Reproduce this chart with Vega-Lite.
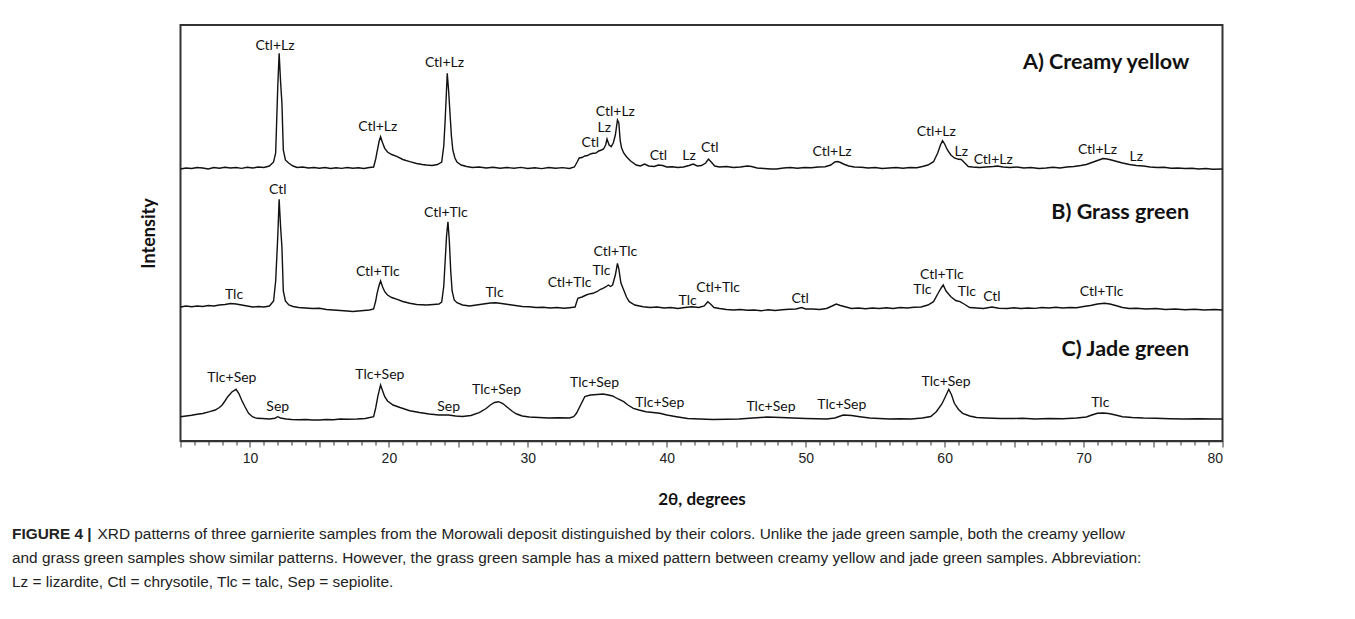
{
  "$schema": "https://vega.github.io/schema/vega-lite/v6.json",
  "width": 1042,
  "height": 416,
  "autosize": {"type": "none"},
  "padding": {"left": 180.5, "top": 25, "right": 132.5, "bottom": 178},
  "background": "white",
  "config": {"view": {"stroke": "#333", "strokeWidth": 2}},
  "title": {
    "text": "FIGURE 4 |",
    "subtitle": [
      "\u200b\u00a0\u00a0\u00a0\u00a0\u00a0\u00a0\u00a0\u00a0\u00a0\u00a0\u00a0\u00a0\u00a0\u00a0\u00a0\u00a0\u00a0\u00a0\u00a0\u00a0XRD patterns of three garnierite samples from the Morowali deposit distinguished by their colors. Unlike the jade green sample, both the creamy yellow",
      "and grass green samples show similar patterns. However, the grass green sample has a mixed pattern between creamy yellow and jade green samples. Abbreviation:",
      "Lz = lizardite, Ctl = chrysotile, Tlc = talc, Sep = sepiolite."
    ],
    "orient": "bottom",
    "anchor": "start",
    "frame": "group",
    "dx": -168.5,
    "offset": 20,
    "font": "Liberation Sans",
    "fontSize": 15.4,
    "fontWeight": "bold",
    "color": "#222",
    "subtitleFont": "Liberation Sans",
    "subtitleFontSize": 15.4,
    "subtitleColor": "#222",
    "subtitleLineHeight": 24,
    "subtitlePadding": -15.4
  },
  "datasets": {
    "trace": [
      {"s":"A","x":5.0,"y":272},{"s":"A","x":5.4,"y":273},{"s":"A","x":5.8,"y":272.5},{"s":"A","x":6.2,"y":273.5},{"s":"A","x":6.6,"y":273},{"s":"A","x":7.0,"y":272},{"s":"A","x":7.4,"y":273.5},{"s":"A","x":7.8,"y":272.8},{"s":"A","x":8.2,"y":273.8},{"s":"A","x":8.6,"y":273},{"s":"A","x":9.0,"y":273.5},{"s":"A","x":9.4,"y":272.6},{"s":"A","x":9.8,"y":273.8},{"s":"A","x":10.2,"y":273},{"s":"A","x":10.6,"y":274},{"s":"A","x":11.0,"y":273.5},{"s":"A","x":11.4,"y":275},{"s":"A","x":11.7,"y":279},{"s":"A","x":11.85,"y":288},{"s":"A","x":12.0,"y":354},{"s":"A","x":12.1,"y":387.7},{"s":"A","x":12.2,"y":360},{"s":"A","x":12.3,"y":338},{"s":"A","x":12.4,"y":291},{"s":"A","x":12.55,"y":281},{"s":"A","x":12.8,"y":277.7},{"s":"A","x":13.1,"y":275},{"s":"A","x":13.4,"y":273.5},{"s":"A","x":13.8,"y":274},{"s":"A","x":14.2,"y":273},{"s":"A","x":14.6,"y":273.5},{"s":"A","x":15.0,"y":272.8},{"s":"A","x":15.4,"y":273.5},{"s":"A","x":15.8,"y":272.5},{"s":"A","x":16.2,"y":273.3},{"s":"A","x":16.6,"y":272.6},{"s":"A","x":17.0,"y":273.5},{"s":"A","x":17.4,"y":272.8},{"s":"A","x":17.8,"y":273.2},{"s":"A","x":18.2,"y":272.5},{"s":"A","x":18.6,"y":273.5},{"s":"A","x":18.9,"y":274},{"s":"A","x":19.05,"y":282},{"s":"A","x":19.15,"y":289.3},{"s":"A","x":19.3,"y":300},{"s":"A","x":19.4,"y":304.3},{"s":"A","x":19.55,"y":298},{"s":"A","x":19.7,"y":292.7},{"s":"A","x":19.9,"y":289},{"s":"A","x":20.2,"y":286.5},{"s":"A","x":20.6,"y":284.3},{"s":"A","x":21.0,"y":281.5},{"s":"A","x":21.5,"y":279.3},{"s":"A","x":22.0,"y":277.5},{"s":"A","x":22.4,"y":276.5},{"s":"A","x":22.7,"y":276},{"s":"A","x":23.1,"y":275.5},{"s":"A","x":23.5,"y":276.5},{"s":"A","x":23.8,"y":279},{"s":"A","x":23.95,"y":295},{"s":"A","x":24.05,"y":321},{"s":"A","x":24.15,"y":352},{"s":"A","x":24.2,"y":367.7},{"s":"A","x":24.3,"y":350},{"s":"A","x":24.4,"y":327},{"s":"A","x":24.5,"y":305},{"s":"A","x":24.6,"y":291},{"s":"A","x":24.75,"y":283},{"s":"A","x":24.9,"y":279},{"s":"A","x":25.2,"y":276},{"s":"A","x":25.6,"y":274.5},{"s":"A","x":26.0,"y":273.5},{"s":"A","x":26.5,"y":274},{"s":"A","x":27.0,"y":273},{"s":"A","x":27.5,"y":273.8},{"s":"A","x":28.0,"y":272.7},{"s":"A","x":28.5,"y":273.5},{"s":"A","x":29.0,"y":272.8},{"s":"A","x":29.5,"y":273.6},{"s":"A","x":30.0,"y":272.5},{"s":"A","x":30.5,"y":273.3},{"s":"A","x":31.0,"y":272.4},{"s":"A","x":31.5,"y":273.5},{"s":"A","x":32.0,"y":272.7},{"s":"A","x":32.5,"y":273.4},{"s":"A","x":33.0,"y":272.5},{"s":"A","x":33.35,"y":274},{"s":"A","x":33.55,"y":279},{"s":"A","x":33.7,"y":283},{"s":"A","x":33.9,"y":283.5},{"s":"A","x":34.1,"y":285},{"s":"A","x":34.3,"y":285.5},{"s":"A","x":34.5,"y":287},{"s":"A","x":34.7,"y":287.7},{"s":"A","x":34.9,"y":288},{"s":"A","x":35.1,"y":290},{"s":"A","x":35.3,"y":291},{"s":"A","x":35.45,"y":292},{"s":"A","x":35.6,"y":296},{"s":"A","x":35.7,"y":302},{"s":"A","x":35.85,"y":296},{"s":"A","x":36.0,"y":294.3},{"s":"A","x":36.15,"y":298},{"s":"A","x":36.3,"y":306},{"s":"A","x":36.45,"y":321},{"s":"A","x":36.55,"y":318},{"s":"A","x":36.65,"y":300},{"s":"A","x":36.75,"y":293},{"s":"A","x":36.9,"y":288},{"s":"A","x":37.1,"y":284.3},{"s":"A","x":37.4,"y":280},{"s":"A","x":37.8,"y":276},{"s":"A","x":38.1,"y":275},{"s":"A","x":38.4,"y":277},{"s":"A","x":38.7,"y":275},{"s":"A","x":39.1,"y":274.5},{"s":"A","x":39.4,"y":276},{"s":"A","x":39.7,"y":275.5},{"s":"A","x":40.0,"y":274},{"s":"A","x":40.4,"y":274.3},{"s":"A","x":40.8,"y":273.5},{"s":"A","x":41.2,"y":274},{"s":"A","x":41.6,"y":275.5},{"s":"A","x":41.9,"y":277},{"s":"A","x":42.2,"y":275},{"s":"A","x":42.5,"y":275.5},{"s":"A","x":42.8,"y":278},{"s":"A","x":43.0,"y":282},{"s":"A","x":43.2,"y":279},{"s":"A","x":43.45,"y":275},{"s":"A","x":43.8,"y":274},{"s":"A","x":44.3,"y":274.5},{"s":"A","x":44.8,"y":273.5},{"s":"A","x":45.3,"y":274},{"s":"A","x":45.8,"y":275},{"s":"A","x":46.1,"y":274.5},{"s":"A","x":46.5,"y":273},{"s":"A","x":47.0,"y":272.5},{"s":"A","x":47.5,"y":272},{"s":"A","x":47.9,"y":272},{"s":"A","x":48.4,"y":273},{"s":"A","x":48.9,"y":273.5},{"s":"A","x":49.4,"y":272.8},{"s":"A","x":49.9,"y":273.5},{"s":"A","x":50.4,"y":273.2},{"s":"A","x":50.9,"y":274},{"s":"A","x":51.4,"y":274.3},{"s":"A","x":51.8,"y":276},{"s":"A","x":52.1,"y":279},{"s":"A","x":52.3,"y":279.5},{"s":"A","x":52.5,"y":278.5},{"s":"A","x":52.8,"y":276.5},{"s":"A","x":53.1,"y":275},{"s":"A","x":53.5,"y":274},{"s":"A","x":54.0,"y":273.8},{"s":"A","x":54.5,"y":273},{"s":"A","x":55.0,"y":273.5},{"s":"A","x":55.5,"y":272.5},{"s":"A","x":56.0,"y":273},{"s":"A","x":56.5,"y":273.5},{"s":"A","x":57.0,"y":272.8},{"s":"A","x":57.5,"y":273.5},{"s":"A","x":58.0,"y":273.2},{"s":"A","x":58.4,"y":274.5},{"s":"A","x":58.8,"y":276},{"s":"A","x":59.2,"y":279.3},{"s":"A","x":59.5,"y":288},{"s":"A","x":59.7,"y":296},{"s":"A","x":59.85,"y":300.3},{"s":"A","x":60.0,"y":297},{"s":"A","x":60.2,"y":291},{"s":"A","x":60.45,"y":286},{"s":"A","x":60.7,"y":283},{"s":"A","x":61.0,"y":281.7},{"s":"A","x":61.2,"y":281.5},{"s":"A","x":61.45,"y":278},{"s":"A","x":61.7,"y":274.5},{"s":"A","x":62.0,"y":274},{"s":"A","x":62.5,"y":273.5},{"s":"A","x":63.0,"y":274},{"s":"A","x":63.5,"y":274.5},{"s":"A","x":63.8,"y":275},{"s":"A","x":64.2,"y":274},{"s":"A","x":64.7,"y":273.5},{"s":"A","x":65.2,"y":274},{"s":"A","x":65.7,"y":273},{"s":"A","x":66.2,"y":273.5},{"s":"A","x":66.8,"y":272.5},{"s":"A","x":67.3,"y":273},{"s":"A","x":67.8,"y":273.7},{"s":"A","x":68.3,"y":273},{"s":"A","x":68.8,"y":274},{"s":"A","x":69.3,"y":274.5},{"s":"A","x":69.8,"y":275.5},{"s":"A","x":70.2,"y":276.5},{"s":"A","x":70.6,"y":278.5},{"s":"A","x":71.0,"y":280.5},{"s":"A","x":71.4,"y":282.5},{"s":"A","x":71.7,"y":282},{"s":"A","x":72.0,"y":281},{"s":"A","x":72.4,"y":279.5},{"s":"A","x":72.8,"y":278},{"s":"A","x":73.3,"y":276.5},{"s":"A","x":73.8,"y":275.5},{"s":"A","x":74.3,"y":275},{"s":"A","x":74.8,"y":274},{"s":"A","x":75.3,"y":273.5},{"s":"A","x":75.8,"y":273.8},{"s":"A","x":76.3,"y":272.8},{"s":"A","x":76.8,"y":273},{"s":"A","x":77.3,"y":272.5},{"s":"A","x":77.8,"y":272.8},{"s":"A","x":78.3,"y":272},{"s":"A","x":78.8,"y":272.5},{"s":"A","x":79.3,"y":271.8},{"s":"A","x":80.0,"y":272},
      {"s":"B","x":5.0,"y":134},{"s":"B","x":5.4,"y":135},{"s":"B","x":5.8,"y":134.2},{"s":"B","x":6.2,"y":135},{"s":"B","x":6.6,"y":134.5},{"s":"B","x":7.0,"y":135.5},{"s":"B","x":7.4,"y":135},{"s":"B","x":7.8,"y":136},{"s":"B","x":8.2,"y":136.5},{"s":"B","x":8.6,"y":137.5},{"s":"B","x":9.0,"y":137},{"s":"B","x":9.4,"y":136},{"s":"B","x":9.8,"y":135},{"s":"B","x":10.2,"y":134},{"s":"B","x":10.6,"y":134.5},{"s":"B","x":11.0,"y":134},{"s":"B","x":11.4,"y":135},{"s":"B","x":11.7,"y":140},{"s":"B","x":11.85,"y":160},{"s":"B","x":12.0,"y":204},{"s":"B","x":12.1,"y":241.7},{"s":"B","x":12.2,"y":215},{"s":"B","x":12.3,"y":194},{"s":"B","x":12.4,"y":150},{"s":"B","x":12.55,"y":140},{"s":"B","x":12.8,"y":136},{"s":"B","x":13.1,"y":134.5},{"s":"B","x":13.5,"y":133.5},{"s":"B","x":14.0,"y":133},{"s":"B","x":14.5,"y":132.5},{"s":"B","x":15.0,"y":132.7},{"s":"B","x":15.5,"y":131.5},{"s":"B","x":16.0,"y":131},{"s":"B","x":16.5,"y":130.5},{"s":"B","x":17.0,"y":130},{"s":"B","x":17.4,"y":129.5},{"s":"B","x":17.8,"y":130},{"s":"B","x":18.2,"y":130.5},{"s":"B","x":18.6,"y":131},{"s":"B","x":18.9,"y":132},{"s":"B","x":19.05,"y":140},{"s":"B","x":19.15,"y":147.7},{"s":"B","x":19.3,"y":156},{"s":"B","x":19.4,"y":160},{"s":"B","x":19.55,"y":154},{"s":"B","x":19.7,"y":149.3},{"s":"B","x":19.9,"y":146},{"s":"B","x":20.2,"y":143.5},{"s":"B","x":20.6,"y":141.7},{"s":"B","x":21.0,"y":139.5},{"s":"B","x":21.5,"y":137.7},{"s":"B","x":22.0,"y":136.5},{"s":"B","x":22.7,"y":136},{"s":"B","x":23.2,"y":136.5},{"s":"B","x":23.6,"y":137},{"s":"B","x":23.8,"y":139},{"s":"B","x":23.95,"y":155},{"s":"B","x":24.05,"y":180},{"s":"B","x":24.15,"y":205},{"s":"B","x":24.25,"y":219.3},{"s":"B","x":24.35,"y":200},{"s":"B","x":24.45,"y":170},{"s":"B","x":24.55,"y":150},{"s":"B","x":24.7,"y":141},{"s":"B","x":24.9,"y":138.3},{"s":"B","x":25.3,"y":136},{"s":"B","x":25.8,"y":135},{"s":"B","x":26.3,"y":136},{"s":"B","x":26.8,"y":137},{"s":"B","x":27.3,"y":138},{"s":"B","x":27.7,"y":138.3},{"s":"B","x":28.1,"y":137.5},{"s":"B","x":28.6,"y":136.5},{"s":"B","x":29.1,"y":135.5},{"s":"B","x":29.6,"y":134.5},{"s":"B","x":30.1,"y":134.3},{"s":"B","x":30.6,"y":133.5},{"s":"B","x":31.1,"y":133.8},{"s":"B","x":31.6,"y":133},{"s":"B","x":32.1,"y":133.5},{"s":"B","x":32.6,"y":132.7},{"s":"B","x":33.0,"y":133.3},{"s":"B","x":33.4,"y":134},{"s":"B","x":33.6,"y":142.7},{"s":"B","x":33.9,"y":144},{"s":"B","x":34.2,"y":146},{"s":"B","x":34.5,"y":147.3},{"s":"B","x":34.7,"y":147.7},{"s":"B","x":35.0,"y":149.5},{"s":"B","x":35.2,"y":151.5},{"s":"B","x":35.4,"y":152.7},{"s":"B","x":35.6,"y":154},{"s":"B","x":35.8,"y":156},{"s":"B","x":35.95,"y":154.5},{"s":"B","x":36.1,"y":156},{"s":"B","x":36.3,"y":166},{"s":"B","x":36.45,"y":177.7},{"s":"B","x":36.55,"y":172},{"s":"B","x":36.7,"y":158},{"s":"B","x":36.9,"y":151},{"s":"B","x":37.1,"y":144},{"s":"B","x":37.3,"y":139.3},{"s":"B","x":37.7,"y":136},{"s":"B","x":38.3,"y":134.3},{"s":"B","x":38.8,"y":133.5},{"s":"B","x":39.3,"y":134},{"s":"B","x":39.8,"y":133},{"s":"B","x":40.3,"y":133.5},{"s":"B","x":40.8,"y":132.5},{"s":"B","x":41.3,"y":133.5},{"s":"B","x":41.8,"y":134.3},{"s":"B","x":42.3,"y":133.5},{"s":"B","x":42.7,"y":135},{"s":"B","x":42.95,"y":139.3},{"s":"B","x":43.15,"y":137},{"s":"B","x":43.4,"y":133.5},{"s":"B","x":43.8,"y":132.5},{"s":"B","x":44.3,"y":131.5},{"s":"B","x":44.8,"y":131},{"s":"B","x":45.3,"y":131.5},{"s":"B","x":45.8,"y":130.7},{"s":"B","x":46.3,"y":131},{"s":"B","x":46.8,"y":130.3},{"s":"B","x":47.3,"y":131.2},{"s":"B","x":47.8,"y":130.5},{"s":"B","x":48.3,"y":131.3},{"s":"B","x":48.8,"y":131.7},{"s":"B","x":49.3,"y":132},{"s":"B","x":49.7,"y":133.5},{"s":"B","x":50.0,"y":132},{"s":"B","x":50.5,"y":132},{"s":"B","x":51.0,"y":131.5},{"s":"B","x":51.5,"y":132.5},{"s":"B","x":51.9,"y":135},{"s":"B","x":52.2,"y":137},{"s":"B","x":52.5,"y":135.5},{"s":"B","x":52.9,"y":134},{"s":"B","x":53.3,"y":132.5},{"s":"B","x":53.8,"y":133},{"s":"B","x":54.3,"y":132.3},{"s":"B","x":54.8,"y":133},{"s":"B","x":55.3,"y":132.5},{"s":"B","x":55.8,"y":133.3},{"s":"B","x":56.3,"y":132.5},{"s":"B","x":56.8,"y":133.5},{"s":"B","x":57.3,"y":133},{"s":"B","x":57.8,"y":133.8},{"s":"B","x":58.3,"y":134},{"s":"B","x":58.8,"y":136},{"s":"B","x":59.2,"y":139.3},{"s":"B","x":59.5,"y":147},{"s":"B","x":59.75,"y":153},{"s":"B","x":59.9,"y":156},{"s":"B","x":60.1,"y":150},{"s":"B","x":60.45,"y":144.3},{"s":"B","x":60.8,"y":140.5},{"s":"B","x":61.1,"y":139.3},{"s":"B","x":61.4,"y":137},{"s":"B","x":61.8,"y":133.5},{"s":"B","x":62.3,"y":133},{"s":"B","x":62.8,"y":132.5},{"s":"B","x":63.4,"y":134},{"s":"B","x":63.9,"y":132.8},{"s":"B","x":64.5,"y":132.5},{"s":"B","x":65.0,"y":133.2},{"s":"B","x":65.5,"y":132.5},{"s":"B","x":66.0,"y":133},{"s":"B","x":66.5,"y":132.6},{"s":"B","x":67.0,"y":133.5},{"s":"B","x":67.5,"y":133},{"s":"B","x":68.0,"y":133.8},{"s":"B","x":68.5,"y":133},{"s":"B","x":69.0,"y":133.5},{"s":"B","x":69.5,"y":133.3},{"s":"B","x":70.0,"y":134.5},{"s":"B","x":70.5,"y":135.5},{"s":"B","x":71.0,"y":137},{"s":"B","x":71.5,"y":137.7},{"s":"B","x":71.9,"y":137},{"s":"B","x":72.3,"y":135.5},{"s":"B","x":72.8,"y":133.5},{"s":"B","x":73.3,"y":132.5},{"s":"B","x":73.8,"y":132.8},{"s":"B","x":74.5,"y":132},{"s":"B","x":75.2,"y":132.5},{"s":"B","x":75.9,"y":131.5},{"s":"B","x":76.6,"y":132},{"s":"B","x":77.3,"y":131.2},{"s":"B","x":78.0,"y":131.8},{"s":"B","x":78.7,"y":131},{"s":"B","x":79.4,"y":131.5},{"s":"B","x":80.0,"y":131},
      {"s":"C","x":5.0,"y":24.3},{"s":"C","x":5.4,"y":25},{"s":"C","x":5.8,"y":25.7},{"s":"C","x":6.2,"y":26.7},{"s":"C","x":6.6,"y":27.5},{"s":"C","x":7.1,"y":29.3},{"s":"C","x":7.5,"y":31},{"s":"C","x":7.8,"y":33.5},{"s":"C","x":8.0,"y":36},{"s":"C","x":8.2,"y":40},{"s":"C","x":8.4,"y":44.3},{"s":"C","x":8.7,"y":49},{"s":"C","x":9.0,"y":51.7},{"s":"C","x":9.2,"y":47.5},{"s":"C","x":9.4,"y":41},{"s":"C","x":9.65,"y":34},{"s":"C","x":9.9,"y":27.7},{"s":"C","x":10.2,"y":24},{"s":"C","x":10.5,"y":22.7},{"s":"C","x":10.9,"y":22.5},{"s":"C","x":11.4,"y":22},{"s":"C","x":11.8,"y":22.8},{"s":"C","x":12.0,"y":24.3},{"s":"C","x":12.2,"y":23},{"s":"C","x":12.6,"y":22},{"s":"C","x":13.0,"y":21.5},{"s":"C","x":13.5,"y":21.2},{"s":"C","x":14.0,"y":21.5},{"s":"C","x":14.5,"y":21},{"s":"C","x":15.0,"y":21},{"s":"C","x":15.5,"y":21.5},{"s":"C","x":16.0,"y":21.3},{"s":"C","x":16.5,"y":22},{"s":"C","x":17.0,"y":21.8},{"s":"C","x":17.7,"y":22},{"s":"C","x":18.3,"y":22.5},{"s":"C","x":18.9,"y":24.3},{"s":"C","x":19.05,"y":33},{"s":"C","x":19.2,"y":44.3},{"s":"C","x":19.4,"y":56},{"s":"C","x":19.55,"y":50},{"s":"C","x":19.7,"y":44.3},{"s":"C","x":19.9,"y":40},{"s":"C","x":20.3,"y":36},{"s":"C","x":20.8,"y":33.5},{"s":"C","x":21.5,"y":30.3},{"s":"C","x":22.2,"y":28.5},{"s":"C","x":22.9,"y":27},{"s":"C","x":23.6,"y":26},{"s":"C","x":24.3,"y":26},{"s":"C","x":24.8,"y":25},{"s":"C","x":25.3,"y":24.5},{"s":"C","x":25.9,"y":25.5},{"s":"C","x":26.5,"y":28.3},{"s":"C","x":27.0,"y":32.5},{"s":"C","x":27.3,"y":36},{"s":"C","x":27.6,"y":38.5},{"s":"C","x":27.9,"y":39.3},{"s":"C","x":28.2,"y":37.5},{"s":"C","x":28.5,"y":34},{"s":"C","x":28.9,"y":29.5},{"s":"C","x":29.2,"y":27},{"s":"C","x":29.6,"y":25},{"s":"C","x":30.1,"y":24},{"s":"C","x":30.8,"y":23.5},{"s":"C","x":31.5,"y":23},{"s":"C","x":32.2,"y":23.2},{"s":"C","x":33.0,"y":23},{"s":"C","x":33.3,"y":24.3},{"s":"C","x":33.5,"y":27.7},{"s":"C","x":33.8,"y":36},{"s":"C","x":34.1,"y":44.3},{"s":"C","x":34.5,"y":46},{"s":"C","x":35.0,"y":46.5},{"s":"C","x":35.4,"y":47},{"s":"C","x":35.8,"y":46},{"s":"C","x":36.1,"y":45},{"s":"C","x":36.5,"y":42},{"s":"C","x":36.9,"y":39.3},{"s":"C","x":37.2,"y":36},{"s":"C","x":37.6,"y":32.7},{"s":"C","x":38.0,"y":31},{"s":"C","x":38.5,"y":29.3},{"s":"C","x":39.0,"y":28.5},{"s":"C","x":39.5,"y":27.7},{"s":"C","x":40.0,"y":26},{"s":"C","x":40.7,"y":24.3},{"s":"C","x":41.5,"y":22.5},{"s":"C","x":42.4,"y":22},{"s":"C","x":43.3,"y":21.5},{"s":"C","x":44.3,"y":21.7},{"s":"C","x":45.2,"y":22},{"s":"C","x":46.2,"y":23},{"s":"C","x":47.2,"y":24},{"s":"C","x":48.2,"y":23.5},{"s":"C","x":49.1,"y":23},{"s":"C","x":50.0,"y":22.5},{"s":"C","x":50.8,"y":22.3},{"s":"C","x":51.5,"y":22},{"s":"C","x":52.1,"y":23},{"s":"C","x":52.7,"y":26},{"s":"C","x":53.3,"y":25.5},{"s":"C","x":53.9,"y":24.3},{"s":"C","x":54.6,"y":23},{"s":"C","x":55.3,"y":22.5},{"s":"C","x":56.0,"y":22},{"s":"C","x":56.8,"y":22.3},{"s":"C","x":57.6,"y":22},{"s":"C","x":58.4,"y":23},{"s":"C","x":59.0,"y":24.5},{"s":"C","x":59.4,"y":29.3},{"s":"C","x":59.8,"y":37},{"s":"C","x":60.0,"y":42.7},{"s":"C","x":60.3,"y":51.7},{"s":"C","x":60.5,"y":46},{"s":"C","x":60.7,"y":37.7},{"s":"C","x":61.0,"y":31.5},{"s":"C","x":61.3,"y":27.7},{"s":"C","x":61.8,"y":25},{"s":"C","x":62.3,"y":23.5},{"s":"C","x":63.0,"y":23},{"s":"C","x":64.0,"y":22.5},{"s":"C","x":65.0,"y":22.5},{"s":"C","x":65.6,"y":22.8},{"s":"C","x":66.5,"y":22},{"s":"C","x":67.5,"y":22.5},{"s":"C","x":68.5,"y":22.3},{"s":"C","x":69.5,"y":23},{"s":"C","x":70.2,"y":24},{"s":"C","x":70.6,"y":26},{"s":"C","x":71.0,"y":27.7},{"s":"C","x":71.4,"y":28},{"s":"C","x":71.8,"y":27.5},{"s":"C","x":72.3,"y":26},{"s":"C","x":72.8,"y":24.3},{"s":"C","x":73.5,"y":23.5},{"s":"C","x":74.3,"y":23},{"s":"C","x":75.2,"y":22.8},{"s":"C","x":76.2,"y":22.3},{"s":"C","x":77.2,"y":22},{"s":"C","x":78.2,"y":22.3},{"s":"C","x":79.4,"y":22},{"s":"C","x":80.0,"y":22}
    ],
    "labels": [
      {"x":11.8,"y":395,"t":"Ctl+Lz"},{"x":19.2,"y":314.3,"t":"Ctl+Lz"},{"x":24.0,"y":377.7,"t":"Ctl+Lz"},{"x":34.5,"y":298.3,"t":"Ctl"},{"x":35.5,"y":312.7,"t":"Lz"},{"x":36.3,"y":329.3,"t":"Ctl+Lz"},{"x":39.4,"y":285,"t":"Ctl"},{"x":41.6,"y":285,"t":"Lz"},{"x":43.1,"y":292.7,"t":"Ctl"},{"x":51.9,"y":288.7,"t":"Ctl+Lz"},{"x":59.4,"y":309.3,"t":"Ctl+Lz"},{"x":61.2,"y":289.3,"t":"Lz"},{"x":63.5,"y":281,"t":"Ctl+Lz"},{"x":71.0,"y":291,"t":"Ctl+Lz"},{"x":73.8,"y":284.3,"t":"Lz"},
      {"x":8.85,"y":146,"t":"Tlc"},{"x":12.0,"y":251,"t":"Ctl"},{"x":19.2,"y":169.3,"t":"Ctl+Tlc"},{"x":24.1,"y":228.3,"t":"Ctl+Tlc"},{"x":27.6,"y":148.3,"t":"Tlc"},{"x":33.0,"y":158,"t":"Ctl+Tlc"},{"x":35.3,"y":170.3,"t":"Tlc"},{"x":36.3,"y":189.3,"t":"Ctl+Tlc"},{"x":41.5,"y":140,"t":"Tlc"},{"x":43.7,"y":152.7,"t":"Ctl+Tlc"},{"x":49.6,"y":141.7,"t":"Ctl"},{"x":59.8,"y":166,"t":"Ctl+Tlc"},{"x":58.4,"y":151,"t":"Tlc"},{"x":61.6,"y":149.3,"t":"Tlc"},{"x":63.4,"y":144.3,"t":"Ctl"},{"x":71.3,"y":149.3,"t":"Ctl+Tlc"},
      {"x":8.7,"y":62.7,"t":"Tlc+Sep"},{"x":12.0,"y":33.7,"t":"Sep"},{"x":19.35,"y":66,"t":"Tlc+Sep"},{"x":24.3,"y":33.7,"t":"Sep"},{"x":27.75,"y":51,"t":"Tlc+Sep"},{"x":34.8,"y":57.7,"t":"Tlc+Sep"},{"x":39.5,"y":37.7,"t":"Tlc+Sep"},{"x":47.5,"y":34.3,"t":"Tlc+Sep"},{"x":52.6,"y":36,"t":"Tlc+Sep"},{"x":60.1,"y":59.3,"t":"Tlc+Sep"},{"x":71.2,"y":37.7,"t":"Tlc"}
    ],
    "names": [
      {"x":77.6,"y":377.7,"t":"A) Creamy yellow"},
      {"x":77.6,"y":227.7,"t":"B) Grass green"},
      {"x":77.6,"y":91,"t":"C) Jade green"}
    ]
  },
  "encoding": {
    "x": {
      "field": "x", "type": "quantitative",
      "scale": {"domain": [5, 80], "nice": false},
      "axis": {
        "title": "2θ, degrees",
        "titleFont": "Lato", "titleFontWeight": "bold", "titleFontSize": 17, "titleColor": "#111", "titlePadding": 26,
        "values": [5,6,7,8,9,10,11,12,13,14,15,16,17,18,19,20,21,22,23,24,25,26,27,28,29,30,31,32,33,34,35,36,37,38,39,40,41,42,43,44,45,46,47,48,49,50,51,52,53,54,55,56,57,58,59,60,61,62,63,64,65,66,67,68,69,70,71,72,73,74,75,76,77,78,79,80],
        "labelExpr": "datum.value % 10 === 0 ? datum.label : ''",
        "labelOverlap": false,
        "labelFont": "Liberation Sans", "labelFontSize": 14, "labelColor": "#222", "labelPadding": 4,
        "tickSize": {"condition": {"test": "datum.value % 5 === 0", "value": 6}, "value": 4},
        "tickColor": "#333", "domainColor": "#333", "domainWidth": 1.5, "grid": false
      }
    },
    "y": {
      "field": "y", "type": "quantitative",
      "scale": {"domain": [0, 416], "nice": false, "zero": false},
      "axis": {
        "title": "Intensity", "titleFont": "Lato", "titleFontWeight": "bold", "titleFontSize": 18, "titleColor": "#111", "titlePadding": 22,
        "ticks": false, "labels": false, "domain": false, "grid": false
      }
    }
  },
  "layer": [
    {
      "data": {"name": "trace"},
      "mark": {"type": "line", "color": "#111", "strokeWidth": 1.4, "interpolate": "linear"},
      "encoding": {"detail": {"field": "s"}}
    },
    {
      "data": {"name": "labels"},
      "mark": {"type": "text", "font": "Lato", "fontSize": 14, "color": "#111", "baseline": "middle", "align": "center"},
      "encoding": {"text": {"field": "t"}}
    },
    {
      "data": {"name": "names"},
      "mark": {"type": "text", "font": "Lato", "fontSize": 21.5, "fontWeight": "bold", "color": "#111", "baseline": "middle", "align": "right"},
      "encoding": {"text": {"field": "t"}}
    }
  ]
}
